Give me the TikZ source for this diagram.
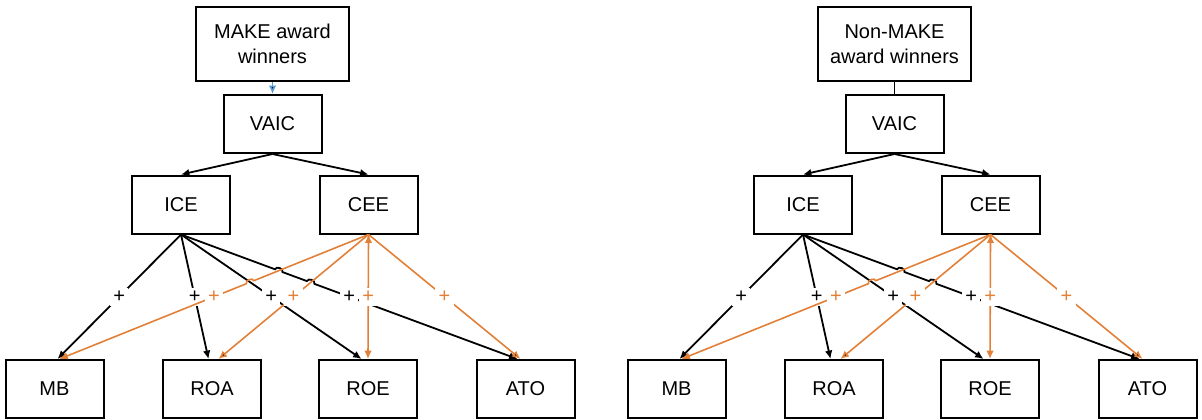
\documentclass[tikz,border=0pt]{standalone}
\usepackage{fontspec}
\setmainfont{Liberation Sans}
\usetikzlibrary{positioning,arrows.meta,calc}
\definecolor{hiorange}{RGB}{226,128,56}
\definecolor{hiblue}{RGB}{91,155,213}
\tikzset{
  var/.style={draw,line width=1pt,minimum width=49pt,minimum height=29pt,inner sep=1pt,font=\fontsize{10}{12}\selectfont},
  group/.style={var,minimum width=76.5pt,minimum height=37pt,align=center,font=\fontsize{10}{12.5}\selectfont},
  sign/.style={fill=white,inner sep=1.6pt,font=\fontsize{10}{10}\selectfont},
  osign/.style={sign,text=hiorange},
  blk/.style={->,line width=0.9pt},
  org/.style={->,draw=hiorange,line width=0.8pt},
  hop/.style={bend left=90,looseness=1.2},
}

\begin{document}
\begin{tikzpicture}[x=0.5pt,y=0.5pt,on grid,>={Latex[length=4.2pt,width=3.8pt]}]
   \useasboundingbox (0,0) rectangle (1202,-419);
   % MAKE award winners
   \node[group] (G_1) at (272.5,-44) {MAKE award\\winners};
   \node[var] (VAIC_1) [below=40pt of G_1] {VAIC};
   \node[var] (ICE_1) [below left=40.25pt and 45.75pt of VAIC_1] {ICE};
   \node[var] (CEE_1) [below right=40.25pt and 48pt of VAIC_1] {CEE};
   \node[var] (MB_1) [below left=92.25pt and 63.25pt of ICE_1] {MB};
   \node[var] (ROA_1) [right=78.75pt of MB_1] {ROA};
   \node[var] (ROE_1) [right=78pt of ROA_1] {ROE};
   \node[var] (ATO_1) [right=78.75pt of ROE_1] {ATO};
   \coordinate (ROEin_1) at ([xshift=-3.25pt]ROE_1.north);
   \coordinate (ATOin_1) at ([xshift=-4pt]ATO_1.north);
   \coordinate (MBor_1) at ([xshift=2.5pt]MB_1.north);
   \coordinate (ROAor_1) at ([xshift=3.25pt]ROA_1.north);
   \coordinate (H1_1) at (intersection of ICE_1.south--ATOin_1 and CEE_1.south--MBor_1);
   \coordinate (H2_1) at (intersection of ICE_1.south--ATOin_1 and CEE_1.south--ROAor_1);
   \coordinate (H3_1) at (intersection of ICE_1.south--ROEin_1 and CEE_1.south--MBor_1);
    \path[->,draw=hiblue,line width=0.8pt]
    (G_1) edge (VAIC_1);
    \path[blk]
    (VAIC_1.south) edge (ICE_1.north)
                   edge (CEE_1.north)
    (ICE_1.south) edge node[sign] {+} ([xshift=1.5pt]MB_1.north)
                  edge node[sign] {+} ([xshift=-1.75pt]ROA_1.north)
                  edge node[sign] {+} (ROEin_1);
    \draw[blk] (ICE_1.south) -- ($(H1_1)!2pt!(ICE_1.south)$) to[hop] ($(H1_1)!2pt!(ATOin_1)$)
       -- ($(H2_1)!2pt!(ICE_1.south)$) to[hop] ($(H2_1)!2pt!(ATOin_1)$) -- (ATOin_1);
    \draw[org] (CEE_1.south) -- ($(H3_1)!2pt!(CEE_1.south)$) to[hop,bend right=90] ($(H3_1)!2pt!(MBor_1)$) -- (MBor_1);
    \path[org]
    (CEE_1.south) edge node[osign] {+} (ROAor_1)
                  edge node[osign] {+} ([xshift=-2.5pt]ATO_1.north);
    \draw[org] (CEE_1.south) -- node[osign] {+} (ROE_1.north);
   \node[sign] (s14_1) at ($(ICE_1.south)!0.5!(ATOin_1)$) {+};
   \node[osign] (s21_1) at ($(CEE_1.south)!0.5!(MBor_1)$) {+};

   % Non-MAKE award winners
   \node[group] (G_2) at (894.5,-44) {Non-MAKE\\award winners};
   \node[var] (VAIC_2) [below=40pt of G_2] {VAIC};
   \node[var] (ICE_2) [below left=40.25pt and 45.75pt of VAIC_2] {ICE};
   \node[var] (CEE_2) [below right=40.25pt and 48pt of VAIC_2] {CEE};
   \node[var] (MB_2) [below left=92.25pt and 63.25pt of ICE_2] {MB};
   \node[var] (ROA_2) [right=78.75pt of MB_2] {ROA};
   \node[var] (ROE_2) [right=78pt of ROA_2] {ROE};
   \node[var] (ATO_2) [right=78.75pt of ROE_2] {ATO};
   \coordinate (ROEin_2) at ([xshift=-3.25pt]ROE_2.north);
   \coordinate (ATOin_2) at ([xshift=-4pt]ATO_2.north);
   \coordinate (MBor_2) at ([xshift=2.5pt]MB_2.north);
   \coordinate (ROAor_2) at ([xshift=3.25pt]ROA_2.north);
   \coordinate (H1_2) at (intersection of ICE_2.south--ATOin_2 and CEE_2.south--MBor_2);
   \coordinate (H2_2) at (intersection of ICE_2.south--ATOin_2 and CEE_2.south--ROAor_2);
   \coordinate (H3_2) at (intersection of ICE_2.south--ROEin_2 and CEE_2.south--MBor_2);
    \path[line width=0.9pt]
    (G_2) edge (VAIC_2);
    \path[blk]
    (VAIC_2.south) edge (ICE_2.north)
                   edge (CEE_2.north)
    (ICE_2.south) edge node[sign] {+} ([xshift=1.5pt]MB_2.north)
                  edge node[sign] {+} ([xshift=-1.75pt]ROA_2.north)
                  edge node[sign] {+} (ROEin_2);
    \draw[blk] (ICE_2.south) -- ($(H1_2)!2pt!(ICE_2.south)$) to[hop] ($(H1_2)!2pt!(ATOin_2)$)
       -- ($(H2_2)!2pt!(ICE_2.south)$) to[hop] ($(H2_2)!2pt!(ATOin_2)$) -- (ATOin_2);
    \draw[org] (CEE_2.south) -- ($(H3_2)!2pt!(CEE_2.south)$) to[hop,bend right=90] ($(H3_2)!2pt!(MBor_2)$) -- (MBor_2);
    \path[org]
    (CEE_2.south) edge node[osign] {+} (ROAor_2)
                  edge node[osign] {+} ([xshift=-2.5pt]ATO_2.north);
    \draw[org] (CEE_2.south) -- node[osign] {+} (ROE_2.north);
   \node[sign] (s14_2) at ($(ICE_2.south)!0.5!(ATOin_2)$) {+};
   \node[osign] (s21_2) at ($(CEE_2.south)!0.5!(MBor_2)$) {+};
\end{tikzpicture}
\end{document}
